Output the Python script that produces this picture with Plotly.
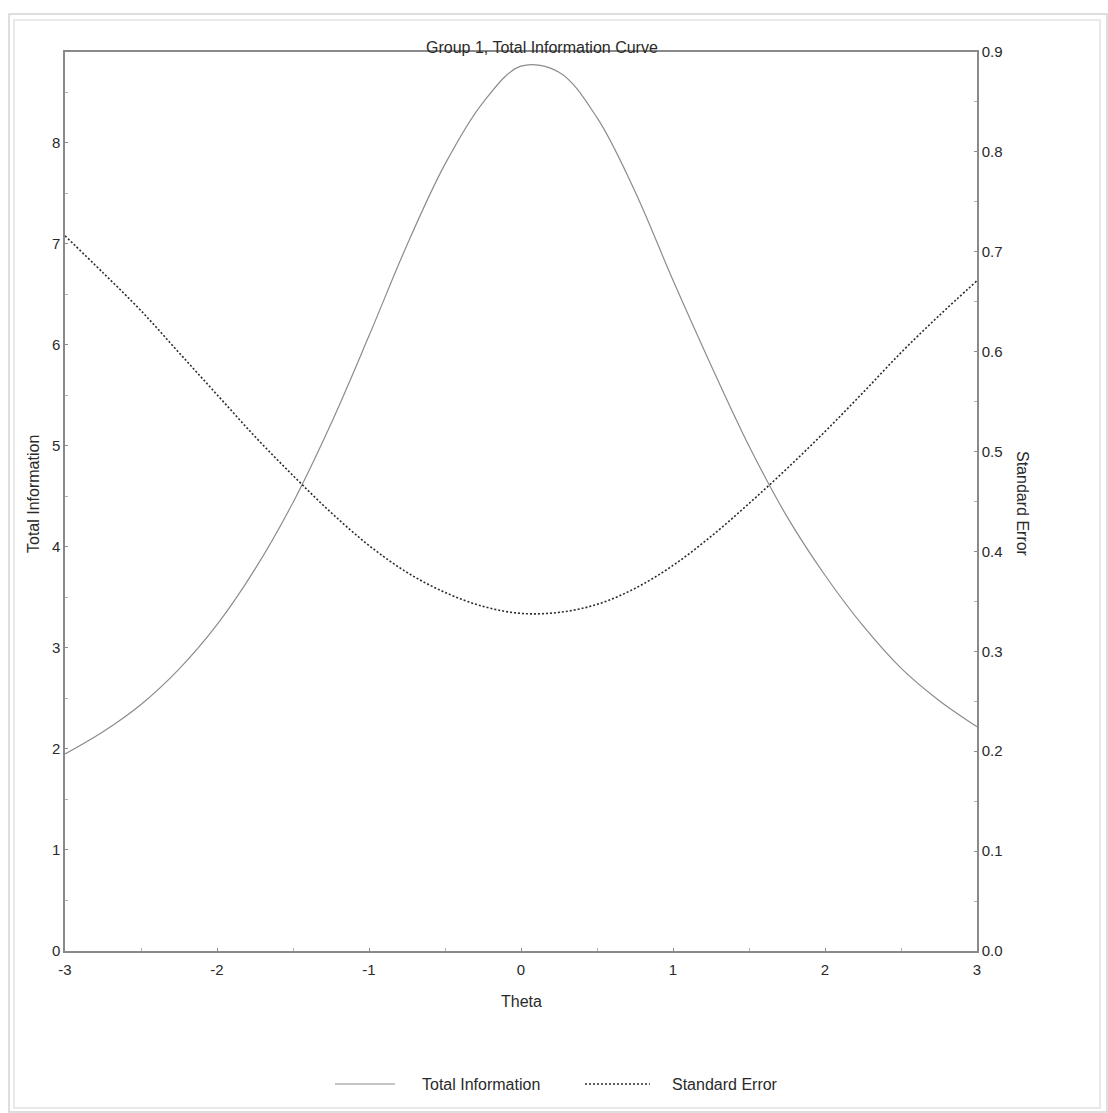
import plotly.graph_objects as go

# Test information and its standard error over the ability scale
theta = [-3.0, -2.75, -2.5, -2.25, -2.0, -1.75, -1.5, -1.25, -1.0, -0.75, -0.5, -0.25,
         0.0, 0.25, 0.5, 0.75, 1.0, 1.25, 1.5, 1.75, 2.0, 2.25, 2.5, 2.75, 3.0]
total_information = [1.95, 2.17, 2.44, 2.79, 3.23, 3.78, 4.44, 5.22, 6.09, 6.99, 7.79, 8.40,
                     8.76, 8.70, 8.25, 7.52, 6.64, 5.80, 5.00, 4.30, 3.72, 3.22, 2.80, 2.48, 2.22]
standard_error = [0.716, 0.679, 0.641, 0.599, 0.557, 0.515, 0.476, 0.439, 0.406, 0.379, 0.359, 0.345,
                  0.338, 0.339, 0.347, 0.363, 0.386, 0.415, 0.448, 0.483, 0.520, 0.559, 0.599, 0.636, 0.671]

x_ticks = [-3, -2, -1, 0, 1, 2, 3]
x_tick_text = ["-3", "-2", "-1", "0", "1", "2", "3"]
info_ticks = [0, 1, 2, 3, 4, 5, 6, 7, 8]
se_ticks = [0.0, 0.1, 0.2, 0.3, 0.4, 0.5, 0.6, 0.7, 0.8, 0.9]

W, H = 1108, 1113
ML, MR, MT, MB = 65, 131, 52, 162
PW, PH = W - ML - MR, H - MT - MB


def px(x):
    return (x - ML) / PW


def py(y):
    return (H - MB - y) / PH


FONT = "Liberation Sans Narrow, Arial Narrow, Liberation Sans, Arial, sans-serif"
TXT = "#2a2a2a"
AX = "#8a8a8a"
INFO_COLOR = "#8c8c8c"
SE_COLOR = "#2c2c2c"

fig = go.Figure()
fig.add_trace(go.Scatter(
    x=theta, y=total_information, mode="lines", name="Total Information",
    line=dict(color=INFO_COLOR, width=1.2, shape="spline", smoothing=1.0),
    showlegend=False, yaxis="y"))
fig.add_trace(go.Scatter(
    x=theta, y=standard_error, mode="lines", name="Standard Error",
    line=dict(color=SE_COLOR, width=1.6, dash="2px,2px", shape="spline", smoothing=1.0),
    showlegend=False, yaxis="y2"))

axis_common = dict(
    showgrid=False, zeroline=False, showline=True, linecolor=AX, linewidth=1.5,
    ticks="inside", ticklen=3, tickcolor=AX, tickwidth=1,
    tickfont=dict(family=FONT, size=15, color=TXT),
)


def minor(step):
    return dict(ticks="inside", ticklen=3, tickcolor="#b0b0b0", dtick=step)


fig.update_layout(
    width=W, height=H,
    margin=dict(l=ML, r=MR, t=MT, b=MB, autoexpand=False),
    paper_bgcolor="white", plot_bgcolor="white",
    xaxis=dict(range=[-3, 3], tickvals=x_ticks, ticktext=x_tick_text, mirror=True,
               ticklabelstandoff=4, minor=minor(0.5), **axis_common),
    yaxis=dict(range=[0, 8.9], tickvals=info_ticks, minor=minor(0.5), **axis_common),
    yaxis2=dict(range=[0, 0.9], tickvals=se_ticks, tickformat=".1f", overlaying="y",
                side="right", minor=minor(0.05), **axis_common),
)

label_font = dict(family=FONT, size=16, color=TXT)
annotations = [
    dict(text="Group 1, Total Information Curve", x=px(542), y=py(47)),
    dict(text="Theta", x=px(521), y=py(1001)),
    dict(text="Total Information", x=px(33), y=py(494), textangle=-90),
    dict(text="Standard Error", x=px(1023), y=py(504), textangle=90),
    dict(text="Total Information", x=px(420), y=py(1084), xanchor="left"),
    dict(text="Standard Error", x=px(670), y=py(1084), xanchor="left"),
]
for a in annotations:
    a.setdefault("xanchor", "center")
    a.update(xref="paper", yref="paper", yanchor="middle", showarrow=False, font=label_font)
fig.update_layout(annotations=annotations)

shapes = [
    # legend samples
    dict(type="line", x0=px(335), x1=px(395), y0=py(1084), y1=py(1084),
         line=dict(color=INFO_COLOR, width=1.2)),
    dict(type="line", x0=px(585), x1=px(650), y0=py(1084), y1=py(1084),
         line=dict(color=SE_COLOR, width=1.6, dash="2px,2px")),
    # window frame
    dict(type="rect", x0=px(9), x1=px(1107), y0=py(1112), y1=py(14),
         line=dict(color="#d4d4d4", width=1.5)),
    dict(type="rect", x0=px(14), x1=px(1100), y0=py(1108), y1=py(20),
         line=dict(color="#e2e2e2", width=1.5)),
]
for s in shapes:
    s.update(xref="paper", yref="paper")
fig.update_layout(shapes=shapes)

fig.write_html("out.html")
